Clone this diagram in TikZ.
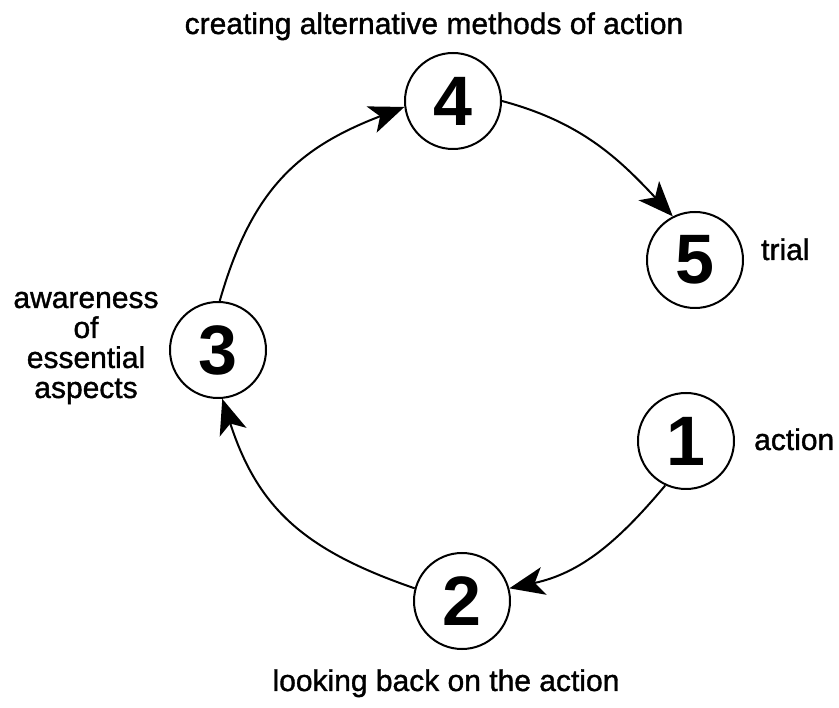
\documentclass[tikz,border=0pt]{standalone}
\usepackage{fontspec}
\setmainfont{Liberation Sans}
\newfontfamily\labelfont[FakeBold=1.2]{Liberation Sans}
\usetikzlibrary{positioning,arrows.meta}

\tikzset{
  stagenode/.style={circle, draw, line width=2pt, minimum size=96pt, inner sep=0pt,
    font=\bfseries\fontsize{70}{70}\selectfont},
  stagelabel/.style={font=\labelfont\fontsize{30}{30}\selectfont, inner sep=0pt},
  cyclearrow/.style={line width=2pt, -{Stealth[length=35pt,width=28pt,inset=9pt]}}
}

\begin{document}
\begin{tikzpicture}[x=1pt, y=-1pt]
    \useasboundingbox (0,0) rectangle (839,708);
    % the five stages
    \node[stagenode] (n1) at (686,441) {1};
    \node[stagenode] (n2) at (462,601) {2};
    \node[stagenode] (n3) at (218,350) {3};
    \node[stagenode] (n4) at (453,101) {4};
    \node[stagenode] (n5) at (695,260) {5};
    % labels
    \node[stagelabel, anchor=base] (l4) at (434,34) {creating alternative methods of action};
    \node[stagelabel, anchor=base west] (l5) at (761,260) {trial};
    \node[stagelabel, anchor=base west] (l1) at (754,450) {action};
    \node[stagelabel, anchor=base] (l2) at (446,691) {looking back on the action};
    \node[stagelabel, align=center] (l3) at (86,348) {awareness\\of\\essential\\aspects};
    % the cycle
    \draw[cyclearrow] (n1.245) to[out=230, in=12] (n2.15);
    \draw[cyclearrow] (n2.165) to[out=161, in=-72, looseness=1.1] (n3.275);
    \draw[cyclearrow] (n3.88) to[out=74, in=201, looseness=1.1] (n4.187);
    \draw[cyclearrow] (n4.0) to[out=-15, in=133] (n5.117);
\end{tikzpicture}
\end{document}
